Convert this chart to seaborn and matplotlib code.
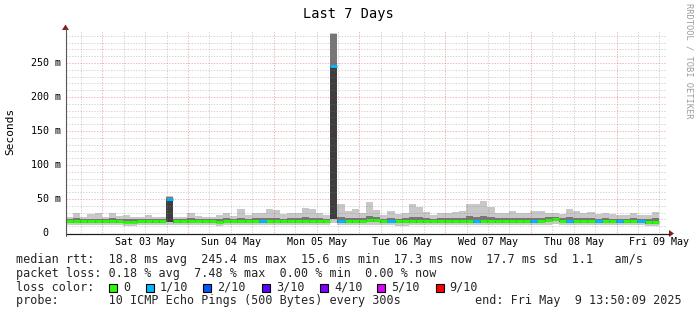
import numpy as np
import pandas as pd
import matplotlib
matplotlib.use("Agg")
import matplotlib.pyplot as plt
import seaborn as sns
from matplotlib.transforms import blended_transform_factory
from matplotlib.patches import Polygon, Rectangle
from matplotlib.lines import Line2D

# ---------------- data (ms, 2-hour bins starting Fri May 2 13:50) ----------------
median_ms = [17.5,17.8,17.6,17.9,17.4,17.6,17.8,17.2,16.3,16.5,
             17.4,17.8,17.6,17.5,50.0,17.6,17.9,17.8,18.0,17.6,
             17.2,16.6,17.4,17.8,18.0,17.7,17.3,17.2,17.0,17.5,
             17.6,17.4,17.2,17.8,17.5,17.3,17.6,245.0,17.2,17.8,
             17.6,17.5,19.0,18.6,17.8,17.4,17.2,17.6,17.5,17.9,
             17.6,17.4,17.2,17.8,17.6,17.3,17.8,17.2,17.0,17.4,
             17.6,17.5,17.4,17.8,17.3,17.6,17.8,19.5,21.0,18.0,
             17.4,17.2,17.6,17.8,17.3,17.6,17.5,17.2,17.6,17.4,
             17.2,16.0,15.8]
smoke_min = [12.0,11.5,12.2,11.8,12.0,11.6,12.3,11.9,11.0,10.8,
             11.8,12.1,12.0,11.7,12.0,12.2,11.9,11.6,12.0,11.8,
             11.5,11.0,11.9,12.0,11.6,11.8,12.1,11.7,11.4,11.9,
             12.0,11.7,11.5,11.8,12.0,11.6,11.9,15.0,11.6,12.0,
             11.8,12.1,12.5,12.0,11.6,11.2,10.5,10.8,11.9,12.0,
             11.8,11.6,11.4,12.0,11.7,11.5,12.0,11.8,11.2,11.6,
             11.9,11.7,11.8,12.0,11.5,11.8,12.0,12.5,13.0,12.0,
             11.6,11.4,11.8,12.0,11.5,11.8,11.6,11.2,11.7,11.5,
             11.2,10.6,10.8]
smoke_lo = [14.8,15.2,15.0,15.4,14.6,15.0,15.3,14.8,14.0,14.2,
            15.0,15.2,15.1,14.8,16.5,15.1,15.4,15.2,15.5,15.0,
            14.6,14.2,14.9,15.2,15.4,15.1,14.8,14.7,14.5,15.0,
            15.1,14.9,14.7,15.2,15.0,14.8,15.0,20.0,14.7,15.2,
            15.0,15.0,16.2,16.0,15.2,14.8,14.4,15.0,15.0,15.3,
            15.0,14.8,14.6,15.2,15.0,14.8,15.2,14.7,14.4,14.8,
            15.0,15.0,14.9,15.2,14.8,15.0,15.2,16.8,18.0,15.5,
            14.8,14.6,15.0,15.2,14.8,15.0,15.0,14.6,15.0,14.8,
            14.6,13.8,13.6]
smoke_hi = [20.5,21.5,20.8,21.2,21.0,20.6,21.8,20.4,20.0,20.2,
            20.6,21.0,20.5,20.8,53.0,20.7,21.0,21.6,20.8,20.6,
            20.2,20.5,21.4,20.8,22.5,21.0,21.8,21.5,22.4,22.0,
            21.2,21.5,21.8,23.0,22.5,21.4,20.8,292.0,24.0,22.0,
            22.5,21.5,24.5,22.8,21.0,22.0,21.2,21.6,24.0,23.0,
            21.8,20.8,21.4,21.6,22.0,22.4,24.5,24.0,25.0,23.0,
            21.6,21.4,22.2,21.6,21.4,22.4,22.0,23.0,24.0,21.6,
            23.0,22.0,21.6,21.8,21.0,21.4,21.2,21.0,21.0,21.4,
            20.8,20.6,22.0]
smoke_max = [24,29,24,28,29,24,30,25,26,24,
             24,26,23,24,55,24,24,30,25,24,
             24,27,29,25,35,27,30,30,35,34,
             28,29,30,37,36,30,27,294,42,33,
             35,30,45,34,27,32,28,30,42,38,
             31,27,29,30,31,33,42,42,47,38,
             30,30,33,30,30,33,33,30,30,28,
             36,32,30,31,28,29,28,27,27,29,
             26,26,31]
loss_tenths = [0,0,0,0,0,0,0,0,0,0,
               0,0,0,0,1,0,0,0,0,0,
               0,0,0,0,0,0,0,1,0,0,
               0,0,0,0,0,0,0,1,1,0,
               0,0,0,0,0,1,0,0,0,0,
               0,0,0,0,0,0,0,1,0,0,
               0,0,0,0,0,1,0,0,0,0,
               1,0,0,0,1,0,0,1,0,0,
               1,0,0]
BIN_H = 2.0
START_TO_MIDNIGHT_H = 10.0 + 10.0 / 60.0   # Fri 02 May 13:50 -> Sat 03 May 00:00
day_labels = ["Sat 03 May", "Sun 04 May", "Mon 05 May", "Tue 06 May",
              "Wed 07 May", "Thu 08 May", "Fri 09 May"]
ytick_vals = [0, 50, 100, 150, 200, 250]
ytick_labels = ["0", "50 m", "100 m", "150 m", "200 m", "250 m"]
loss_names = ["0", "1/10", "2/10", "3/10", "4/10", "5/10", "9/10"]
loss_colors = ["#26ff00", "#00b8ff", "#0059ff", "#5e00ff", "#7e00ff", "#dd00ff", "#ff0000"]

# ---------------- figure ----------------
sns.set_theme(style="white")
plt.rcParams["font.family"] = ["DejaVu Sans Mono", "DejaVu Sans"]
W, H = 697, 315
fig = plt.figure(figsize=(W / 100, H / 100), dpi=100)
fig.patch.set_facecolor("white")
X0, X1 = 66, 666          # plot area pixel columns
YB, YT = 233, 30          # plot area pixel rows (bottom, top)
PX_PER_MS = 0.68
ax = fig.add_axes([X0 / W, 1 - YB / H, (X1 - X0) / W, (YB - YT) / H])
ax.set_facecolor("white")
ax.set_xlim(0, 168)
ax.set_ylim(0, (YB - YT) / PX_PER_MS)

n = len(median_ms)
t = np.arange(n) * BIN_H
edges = np.append(t, t[-1] + BIN_H)
ext = lambda a: np.append(np.asarray(a, float), a[-1])

# smoke
ax.fill_between(edges, ext(smoke_min), ext(smoke_max), step="post", color="#c8c8c8", lw=0, zorder=1)
ax.fill_between(edges, ext(median_ms), ext(smoke_hi), step="post", color="#767676", lw=0, zorder=2)
ax.fill_between(edges, ext(smoke_lo), ext(median_ms), step="post", color="#3e3e3e", lw=0, zorder=2)

# median line coloured by loss (seaborn)
rows = []
for i in range(n):
    name = loss_names[loss_tenths[i]] if loss_tenths[i] < 6 else "9/10"
    rows.append({"t": t[i], "ms": median_ms[i], "seg": i, "loss": name})
    rows.append({"t": t[i] + BIN_H, "ms": median_ms[i], "seg": i, "loss": name})
df = pd.DataFrame(rows)
pal = dict(zip(loss_names, loss_colors))
sns.lineplot(data=df, x="t", y="ms", hue="loss", units="seg", estimator=None,
             palette=pal, legend=False, linewidth=2.1, sort=False, ax=ax, zorder=3,
             solid_capstyle="butt")

# grid (drawn over data like rrdtool)
dots = (0, (1.39, 1.39))
grid_minor = (0.5, 0.5, 0.5, 0.32)
grid_major = (0.8, 0.1, 0.1, 0.3)
for v in np.arange(10, 300, 10):
    if v % 50 == 0:
        continue
    ax.axhline(v, color=grid_minor, lw=0.72, ls=dots, zorder=4)
for v in ytick_vals[1:]:
    ax.axhline(v, color=grid_major, lw=0.72, ls=dots, zorder=4)
mid_hours = START_TO_MIDNIGHT_H + 24 * np.arange(7)
for h in np.arange(START_TO_MIDNIGHT_H - 6, 168, 6):
    if h > 0 and not np.any(np.isclose(h, mid_hours)):
        ax.axvline(h, color=grid_minor, lw=0.72, ls=dots, zorder=4)
for h in mid_hours:
    ax.axvline(h, color=grid_major, lw=0.72, ls=dots, zorder=4)

for s in ax.spines.values():
    s.set_visible(False)
ax.set_xticks([]); ax.set_yticks([])
ax.set_xlabel(""); ax.set_ylabel("")

# axes lines + arrows (figure pixel coords)
def fx(x): return x / W
def fy(y): return 1 - y / H
axis_c = "#1f1f1f"; arrow_c = "#7f1f1f"
fig.add_artist(Line2D([fx(X0 - 0.5), fx(669)], [fy(YB + 0.5), fy(YB + 0.5)], color=axis_c, lw=0.9))
fig.add_artist(Line2D([fx(X0 - 0.5), fx(X0 - 0.5)], [fy(YB + 3), fy(28)], color="#555555", lw=0.8))
fig.add_artist(Polygon([[fx(669), fy(YB - 3)], [fx(674), fy(YB + 0.5)], [fx(669), fy(YB + 4)]],
                       closed=True, color=arrow_c, lw=0))
fig.add_artist(Polygon([[fx(X0 - 4), fy(30)], [fx(X0 - 0.5), fy(24.5)], [fx(X0 + 3), fy(30)]],
                       closed=True, color=arrow_c, lw=0))

# y tick labels
ytr = blended_transform_factory(fig.transFigure, ax.transData)
for v, lab in zip(ytick_vals, ytick_labels):
    xr = 60.5 if v != 0 else 48.5
    fig.text(fx(xr), v, lab, transform=ytr, ha="right", va="center", fontsize=7.2, color="black")

# x labels at noon
xtr = blended_transform_factory(ax.transData, fig.transFigure)
for k, lab in enumerate(day_labels):
    fig.text(START_TO_MIDNIGHT_H + 12 + 24 * k, fy(241.7), lab, transform=xtr,
             ha="center", va="center", fontsize=7.2, color="black")

# title, axis label, watermark
fig.text(fx(348), fy(14), "Last 7 Days", ha="center", va="center", fontsize=9.8, color="black")
fig.text(fx(10), fy(131), "Seconds", ha="center", va="center", rotation=90, fontsize=8, color="black")
fig.text(fx(689), fy(61), "RRDTOOL / TOBI OETIKER", ha="center", va="center", rotation=270,
         fontsize=6.3, color="#9c9c9c")

# legend block
LFS = 8.5
fig.text(fx(16.5), fy(262.6),
         "median rtt:  18.8 ms avg  245.4 ms max  15.6 ms min  17.3 ms now  17.7 ms sd  1.1   am/s",
         ha="left", va="baseline", fontsize=LFS)
fig.text(fx(16.5), fy(276.6),
         "packet loss: 0.18 % avg  7.48 % max  0.00 % min  0.00 % now",
         ha="left", va="baseline", fontsize=LFS)
fig.text(fx(16.5), fy(290.6), "loss color:", ha="left", va="baseline", fontsize=LFS)
box_x = [109, 146, 203, 262, 320, 377, 436]
lab_x = [123, 159.5, 217, 276, 334, 391, 449.5]
for bx, lx, nm, c in zip(box_x, lab_x, loss_names, loss_colors):
    fig.add_artist(Rectangle((fx(bx), fy(291.5)), 8 / W, 8 / H, facecolor=c,
                             edgecolor="black", lw=0.8))
    fig.text(fx(lx), fy(290.6), nm, ha="left", va="baseline", fontsize=LFS)
fig.text(fx(16.5), fy(304.2), "probe:       10 ICMP Echo Pings (500 Bytes) every 300s",
         ha="left", va="baseline", fontsize=LFS)
fig.text(fx(682), fy(304.2), "end: Fri May  9 13:50:09 2025", ha="right", va="baseline", fontsize=LFS)

fig.savefig("out.png", dpi=100, facecolor="white")
